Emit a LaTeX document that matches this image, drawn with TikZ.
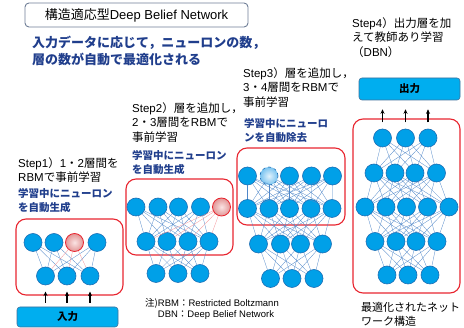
\documentclass[tikz,border=0pt]{standalone}
\usepackage{fontspec}
\setmainfont{Noto Sans CJK JP}
\newfontfamily\arialfont{Liberation Sans}
\newcommand\eng[1]{{\arialfont #1}}
\usetikzlibrary{arrows.meta,calc}
\definecolor{nfill}{RGB}{0,160,232}
\definecolor{nedge}{RGB}{30,110,180}
\definecolor{linkc}{RGB}{80,135,200}
\definecolor{fred}{RGB}{232,37,47}
\definecolor{pinkin}{RGB}{250,228,228}
\definecolor{pinkout}{RGB}{226,150,150}
\definecolor{gonein}{RGB}{225,242,252}
\definecolor{gonefill}{RGB}{120,195,240}
\definecolor{boxfill}{RGB}{0,174,239}
\definecolor{boxedge}{RGB}{65,113,156}
\definecolor{tblue}{RGB}{32,62,140}
\definecolor{titleedge}{RGB}{110,125,150}
\tikzset{
  neuron/.style={circle, minimum size=18pt, inner sep=0pt, fill=nfill, draw=nedge, line width=0.6pt},
  newneuron/.style={circle, minimum size=18pt, inner sep=0pt, draw=fred, line width=0.8pt, inner color=pinkin, outer color=pinkout},
  goneneuron/.style={circle, minimum size=18pt, inner sep=0pt, draw=nedge, dashed, line width=0.6pt, inner color=gonein, outer color=gonefill},
  link/.style={draw=linkc, line width=0.3pt},
  newlink/.style={draw=fred!50, line width=0.3pt},
  frame/.style={draw=fred, line width=1.1pt, rounded corners=10pt, inner sep=0pt},
  iobox/.style={draw=boxedge, fill=boxfill, rounded corners=3pt, line width=0.6pt, minimum width=101pt, font=\bfseries\fontsize{10.5}{12}\selectfont},
  steptext/.style={anchor=north west, inner sep=0pt, align=left, font=\fontsize{11.5}{14.5}\selectfont},
  bluetext/.style={anchor=north west, inner sep=0pt, align=left, text=tblue, font=\bfseries\fontsize{10.5}{14}\selectfont},
  uparr/.style={-{Stealth[length=4.5pt,width=4pt]}, line width=1.1pt},
}
\begin{document}
\begin{tikzpicture}[x=1pt, y=-1pt]
  \useasboundingbox (0,0) rectangle (464,328);

  % title and heading
  \node[draw=titleedge, rounded corners=4pt, line width=0.9pt, minimum width=223pt, minimum height=24pt, font=\fontsize{13}{15}\selectfont] (title) at (136.5,15) {構造適応型\eng{Deep Belief Network}};
  \node[anchor=north west, inner sep=0pt, align=left, text=tblue, font=\bfseries\fontsize{13}{17}\selectfont] (lead) at (32,36) {入力データに応じて，ニューロンの数，\\層の数が自動で最適化される};

  % step 1
  \node[steptext] (s1) at (18,157) {\eng{Step1}）\eng{1}・\eng{2}層間を\\\eng{RBM}で事前学習};
  \node[bluetext] (b1) at (18,188) {学習中にニューロン\\を自動生成};
  \node[frame, minimum width=107pt, minimum height=76pt] (fr1) at (69.5,257) {};
  \foreach \x/\s [count=\i] in {33/neuron,54/neuron,74.5/newneuron,97/neuron}
    \node[\s] (p1a\i) at (\x,242.5) {};
  \foreach \x [count=\i] in {45.5,67,90}
    \node[neuron] (p1b\i) at (\x,276) {};
  \foreach \i in {1,2,4}
    \foreach \j in {1,2,3}
      \draw[link] (p1a\i) -- (p1b\j);
  \foreach \j in {1,2,3}
    \draw[newlink] (p1a3) -- (p1b\j);
  \node[iobox, minimum height=20pt] (in) at (67.5,317) {入力};
  \foreach \i in {1,2,3}
    \draw[uparr] ($(in.north -| p1b\i)+(0,-4)$) -- ($(fr1.south -| p1b\i)+(0,-4)$);

  % step 2
  \node[steptext] (s2) at (132,102) {\eng{Step2}）層を追加し，\\\eng{2}・\eng{3}層間を\eng{RBM}で\\事前学習};
  \node[bluetext] (b2) at (132,150) {学習中にニューロン\\を自動生成};
  \node[frame, minimum width=107pt, minimum height=76pt] (fr2) at (179.5,217) {};
  \foreach \x/\s [count=\i] in {136/neuron,158/neuron,178.5/neuron,200.5/neuron,221.5/newneuron}
    \node[\s] (p2a\i) at (\x,207) {};
  \foreach \x [count=\i] in {146,167,188,209}
    \node[neuron] (p2b\i) at (\x,241.5) {};
  \foreach \x [count=\i] in {156,178,200}
    \node[neuron] (p2c\i) at (\x,273.5) {};
  \foreach \i in {1,...,4}
    \foreach \j in {1,...,4}
      \draw[link] (p2a\i) -- (p2b\j);
  \foreach \j in {1,...,4}
    \draw[newlink] (p2a5) -- (p2b\j);
  \foreach \i in {1,...,4}
    \foreach \j in {1,2,3}
      \draw[link] (p2b\i) -- (p2c\j);

  % step 3
  \node[steptext] (s3) at (243,67) {\eng{Step3}）層を追加し，\\\eng{3}・\eng{4}層間を\eng{RBM}で\\事前学習};
  \node[bluetext] (b3) at (244,118) {学習中にニューロ\\ンを自動除去};
  \node[frame, minimum width=108pt, minimum height=77pt] (fr3) at (291,186.5) {};
  \foreach \x/\s [count=\i] in {247.5/neuron,269/goneneuron,289.5/neuron,311.5/neuron,332.5/neuron}
    \node[\s] (p3a\i) at (\x,176) {};
  \foreach \x [count=\i] in {247.5,269,289.5,311,332}
    \node[neuron] (p3b\i) at (\x,208.5) {};
  \foreach \x [count=\i] in {258.5,280.5,300.5,322.5}
    \node[neuron] (p3c\i) at (\x,244) {};
  \foreach \x [count=\i] in {270.5,292,314}
    \node[neuron] (p3d\i) at (\x,278.5) {};
  \foreach \i in {1,...,5}
    \foreach \j in {1,...,5}
      \draw[link] (p3a\i) -- (p3b\j);
  \foreach \i in {1,...,5}
    \foreach \j in {1,...,4}
      \draw[link] (p3b\i) -- (p3c\j);
  \foreach \i in {1,...,4}
    \foreach \j in {1,2,3}
      \draw[link] (p3c\i) -- (p3d\j);

  % step 4
  \node[steptext] (s4) at (352,17) {\eng{Step4}）出力層を加\\えて教師あり学習\\（\eng{DBN}）};
  \node[iobox, minimum height=22pt] (out) at (409.5,89) {出力};
  \node[frame, minimum width=107pt, minimum height=174pt] (fr4) at (406.5,206) {};
  \foreach \x [count=\i] in {382.5,405.5,428}
    \node[neuron] (p4a\i) at (\x,138) {};
  \foreach \x [count=\i] in {374,395,415,436.5}
    \node[neuron] (p4b\i) at (\x,173) {};
  \foreach \x [count=\i] in {365,386,406.5,427.5,449}
    \node[neuron] (p4c\i) at (\x,207) {};
  \foreach \x [count=\i] in {375,396,416,437}
    \node[neuron] (p4d\i) at (\x,241.5) {};
  \foreach \x [count=\i] in {387,408,430}
    \node[neuron] (p4e\i) at (\x,275) {};
  \foreach \i in {1,2,3}
    \foreach \j in {1,...,4}
      \draw[link] (p4a\i) -- (p4b\j);
  \foreach \i in {1,...,4}
    \foreach \j in {1,...,5}
      \draw[link] (p4b\i) -- (p4c\j);
  \foreach \i in {1,...,5}
    \foreach \j in {1,...,4}
      \draw[link] (p4c\i) -- (p4d\j);
  \foreach \i in {1,...,4}
    \foreach \j in {1,2,3}
      \draw[link] (p4d\i) -- (p4e\j);
  \foreach \i in {1,2,3}
    \draw[uparr] ($(fr4.north -| p4a\i)+(0,4)$) -- ($(out.south -| p4a\i)+(0,9)$);
  \node[anchor=north west, inner sep=0pt, align=left, font=\fontsize{11}{14}\selectfont] (res) at (361,302) {最適化されたネット\\ワーク構造};

  % note
  \node[anchor=north west, inner sep=0pt, align=left, font=\fontsize{9.5}{11}\selectfont] (note) at (145,298.5) {注)\eng{RBM}：\eng{Restricted Boltzmann}\\\phantom{注)}\eng{DBN}：\eng{Deep Belief Network}};
\end{tikzpicture}
\end{document}
